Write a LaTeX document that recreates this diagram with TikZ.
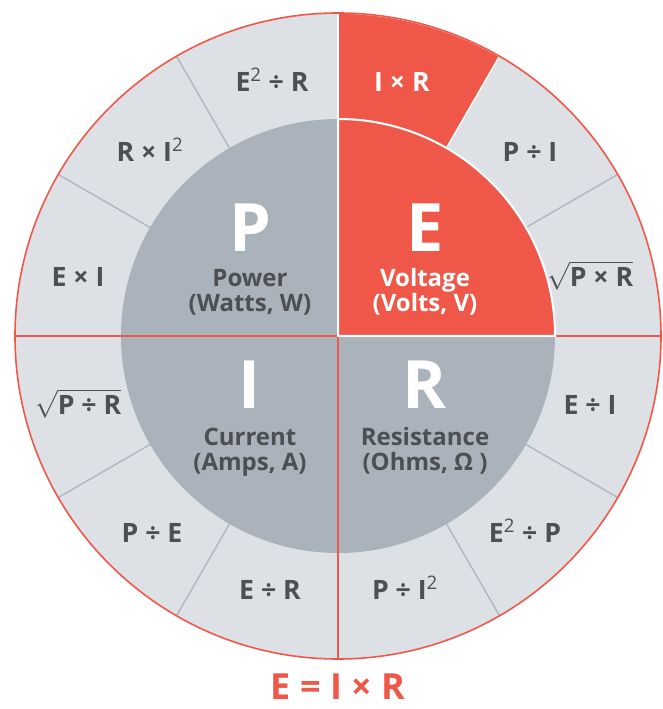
\documentclass[tikz,border=0pt]{standalone}
\usepackage{fontspec}
\setmainfont{Open Sans}
\definecolor{ohmred}{HTML}{EF5849}
\definecolor{ringgray}{HTML}{DDE0E4}
\definecolor{coregray}{HTML}{AAB2BB}
\definecolor{divgray}{HTML}{AEB6BE}
\definecolor{txtgray}{HTML}{4D4F53}
\newcommand{\sq}{\textsuperscript{\mdseries 2}}
\newcommand{\rt}[1]{$\sqrt{\mbox{#1}}$}
\tikzset{
  ringlbl/.style={anchor=base, font=\fontsize{20}{22}\selectfont\bfseries, text=txtgray, inner sep=0pt},
  biglbl/.style={anchor=center, font=\fontsize{50}{55}\selectfont\bfseries, text=white, inner sep=0pt},
  desclbl/.style={anchor=base, font=\fontsize{18}{20}\selectfont\bfseries, text=txtgray, inner sep=0pt},
  divline/.style={draw=divgray, line width=1pt},
  crossline/.style={draw=ohmred, line width=1pt},
}
\begin{document}
\begin{tikzpicture}[x=0.75pt,y=0.75pt]
\useasboundingbox (-338,-373) rectangle (324,336);
% outer ring
\fill[ringgray] (0,0) circle[radius=323];
\foreach \a in {30,60,120,150,210,240,300,330}
  \draw[divline] (\a:217) -- (\a:323);
% inner disc
\fill[coregray] (0,0) circle[radius=217];
% cross lines
\draw[crossline] (-323,0) -- (323,0);
\draw[crossline] (0,-323) -- (0,323);
% red sector I x R
\filldraw[fill=ohmred, draw=white, line width=1.2pt]
  (90:217) -- (90:323) arc[start angle=90, end angle=60, radius=323]
  -- (60:217) arc[start angle=60, end angle=90, radius=217] -- cycle;
% red quadrant E
\filldraw[fill=ohmred, draw=white, line width=1.5pt]
  (0,0) -- (0,217) arc[start angle=90, end angle=0, radius=217] -- cycle;
% outer border
\draw[ohmred, line width=1.2pt] (0,0) circle[radius=323];

% ring labels
\node[ringlbl, text=white] (ir) at (64,244.5) {I × R};
\node[ringlbl] (pi) at (192,174.5) {P ÷ I};
\node[ringlbl] (pr) at (252,49.5) {\rt{P × R}};
\node[ringlbl] (ei) at (252,-78.5) {E ÷ I};
\node[ringlbl] (e2p) at (187,-206.5) {E\sq{} ÷ P};
\node[ringlbl] (pi2) at (67,-263.5) {P ÷ I\sq};
\node[ringlbl] (er) at (-68,-263.5) {E ÷ R};
\node[ringlbl] (pe) at (-186,-206.5) {P ÷ E};
\node[ringlbl] (pdr) at (-260,-78.5) {\rt{P ÷ R}};
\node[ringlbl] (exi) at (-260,49.5) {E × I};
\node[ringlbl] (ri2) at (-188,174.5) {R × I\sq};
\node[ringlbl] (e2r) at (-66,244.5) {E\sq{} ÷ R};

% quadrant letters
\node[biglbl] (P) at (-88,108) {P};
\node[biglbl] (E) at (87,108) {E};
\node[biglbl] (I) at (-88,-49) {I};
\node[biglbl] (R) at (87,-49) {R};

% descriptions
\node[desclbl] (pw1) at (-88,49) {Power};
\node[desclbl] (pw2) at (-88,24) {(Watts, W)};
\node[desclbl, text=white] (v1) at (87,49) {Voltage};
\node[desclbl, text=white] (v2) at (87,24) {(Volts, V)};
\node[desclbl] (c1) at (-88,-109) {Current};
\node[desclbl] (c2) at (-88,-134) {(Amps, A)};
\node[desclbl] (r1) at (87,-109) {Resistance};
\node[desclbl] (r2) at (87,-134) {(Ohms, Ω )};

% title
\node[anchor=base, font=\fontsize{27}{30}\selectfont\bfseries, text=ohmred, inner sep=0pt] (title) at (0,-363) {E = I × R};
\end{tikzpicture}
\end{document}
